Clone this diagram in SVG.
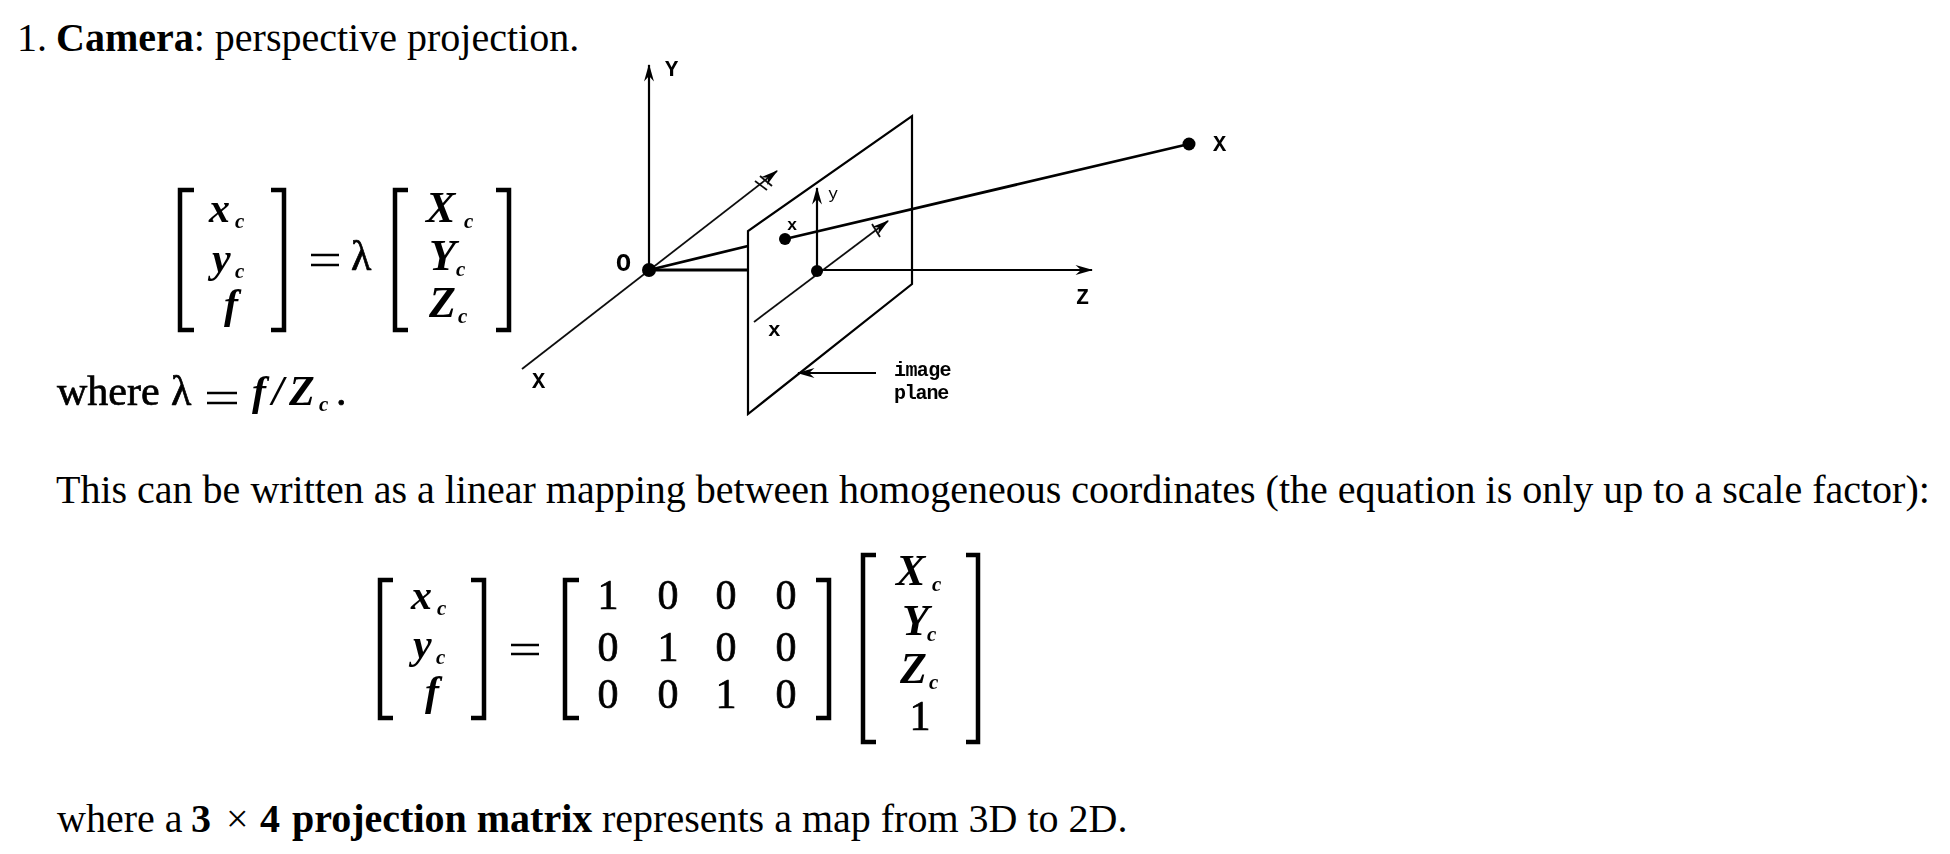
<svg xmlns="http://www.w3.org/2000/svg" width="1950" height="854" viewBox="0 0 1950 854">
<style>
text{font-family:"Liberation Serif",serif;fill:#000}
.t{font-size:40px}
.b{font-weight:bold}
.m{font-size:42px;stroke:#000;stroke-width:.7px}
.mi{font-size:44px;font-style:italic;font-weight:bold}
.si{font-size:42px;font-style:italic;font-weight:bold}
.s{font-size:21px;font-style:italic;font-weight:bold}
.l{font-family:"Liberation Mono",monospace;font-size:22px;font-weight:bold}
.br{fill:none;stroke:#000;stroke-width:4.5;stroke-linecap:butt}
.ax{fill:none;stroke:#000;stroke-width:2.2}
.th{fill:none;stroke:#111;stroke-width:1.8}
.hv{fill:none;stroke:#000;stroke-width:2.8}
.eq{stroke:#000;stroke-width:2.6}
.soft{filter:url(#soft)}
</style>
<defs>
<filter id="soft" x="-5%" y="-5%" width="110%" height="110%"><feGaussianBlur stdDeviation="0.55"/></filter>
<marker id="a" viewBox="0 0 16 10" refX="15" refY="5" markerWidth="18" markerHeight="11" markerUnits="userSpaceOnUse" orient="auto"><path d="M0 0.5L16 5L0 9.5L5 5Z" fill="#000"/></marker>
</defs>
<rect width="1950" height="854" fill="#fff"/>
<g id="heading"><text class="t" x="17" y="51">1. <tspan class="b" dx="-1">Camera</tspan>: perspective projection.</text></g>
<g id="eq1" class="soft">
<path class="br" d="M194 190H180V330H194M271 190H284V330H271M408 190H395V330H408M496 190H509V330H496"/>
<text class="si" x="209" y="222">x</text><text class="s" x="235" y="228">c</text>
<text class="si" x="212" y="272">y</text><text class="s" x="235" y="278">c</text>
<text class="si" x="224" y="318">f</text>
<path class="eq" d="M311 255H339M311 265H339"/>
<text class="m" x="351" y="270">λ</text>
<text class="mi" x="426" y="222">X</text><text class="s" x="464" y="228">c</text>
<text class="mi" x="429" y="270">Y</text><text class="s" x="456" y="276">c</text>
<text class="mi" x="429" y="317">Z</text><text class="s" x="458" y="323">c</text>
</g>
<g id="eq2" class="soft">
<text class="m" x="57" y="405">where</text>
<text class="m" x="171" y="405">λ</text>
<path class="eq" d="M207 393H237M207 403H237"/>
<text class="si" x="252" y="405">f</text><text class="si" x="272" y="405">/</text><text class="si" x="289" y="405">Z</text><text class="s" x="319" y="411">c</text><text class="m" x="336" y="405">.</text>
</g>
<g id="axes" class="soft">
<path class="th" d="M522 369L777 171" marker-end="url(#a)"/>
<path class="th" d="M760 176L772 186M755 181L767 190"/>
<path class="ax" d="M649 270V65" marker-end="url(#a)"/>
<path class="hv" d="M649 270H748"/>
<path class="ax" d="M817 270H1092" marker-end="url(#a)"/>
<path class="ax" d="M817 270V188" marker-end="url(#a)"/>
<path class="th" d="M754 322L888 221" marker-end="url(#a)"/>
<path class="th" d="M872 224L880 237"/>
<path class="hv" d="M649 270L748 246M785 239L1189 144"/>
<path class="ax" d="M748 414V231L912 116V284Z" stroke-width="1.8"/>
<path class="ax" d="M876 373H798" marker-end="url(#a)"/>
<circle cx="649" cy="270" r="7"/><circle cx="817" cy="271" r="6"/><circle cx="785" cy="239" r="6"/><circle cx="1189" cy="144" r="6.5"/>
</g>
<g id="labels" class="soft">
<text class="l" x="665" y="76">Y</text><text class="l" x="616" y="271" style="font-size:25px">O</text><text class="l" x="1213" y="151">X</text>
<text class="l" x="532" y="388">X</text><text class="l" x="1076" y="304">Z</text>
<text class="l" x="828" y="199" style="font-size:17px;font-weight:normal">y</text>
<text class="l" x="787" y="230" style="font-size:17px">x</text>
<text class="l" x="768" y="336" style="font-size:21px">x</text>
<text class="l" x="894" y="376" style="font-size:20px;letter-spacing:-.6px">image</text>
<text class="l" x="894" y="399" style="font-size:20px;letter-spacing:-1.2px">plane</text>
</g>
<g id="para"><text class="t" x="56" y="503">This can be written as a linear mapping between homogeneous coordinates (the equation is only up to a scale factor):</text></g>
<g id="eq3" class="soft">
<path class="br" d="M393 580H380V718H393M471 580H484V718H471M579 580H565V718H579M816 580H829V718H816M876 555H863V742H876M966 555H978V742H966"/>
<text class="si" x="411" y="609">x</text><text class="s" x="437" y="615">c</text>
<text class="si" x="413" y="658">y</text><text class="s" x="436" y="664">c</text>
<text class="si" x="425" y="705">f</text>
<path class="eq" d="M511 645H539M511 654H539"/>
<g class="m" text-anchor="middle">
<text x="608" y="609">1</text><text x="668" y="609">0</text><text x="726" y="609">0</text><text x="786" y="609">0</text>
<text x="608" y="661">0</text><text x="668" y="661">1</text><text x="726" y="661">0</text><text x="786" y="661">0</text>
<text x="608" y="708">0</text><text x="668" y="708">0</text><text x="726" y="708">1</text><text x="786" y="708">0</text>
<text x="920" y="730">1</text>
</g>
<text class="mi" x="896" y="585">X</text><text class="s" x="932" y="591">c</text>
<text class="mi" x="902" y="635">Y</text><text class="s" x="927" y="641">c</text>
<text class="mi" x="900" y="683">Z</text><text class="s" x="929" y="689">c</text>
</g>
<g id="footer">
<text class="t" x="57" y="832">where a</text>
<text class="t b" x="191" y="832">3</text><text class="t" x="226" y="832">×</text><text class="t b" x="260" y="832">4</text>
<text class="t b" x="292" y="832">projection matrix</text>
<text class="t" x="602" y="832">represents a map from 3D to 2D.</text>
</g>
</svg>
